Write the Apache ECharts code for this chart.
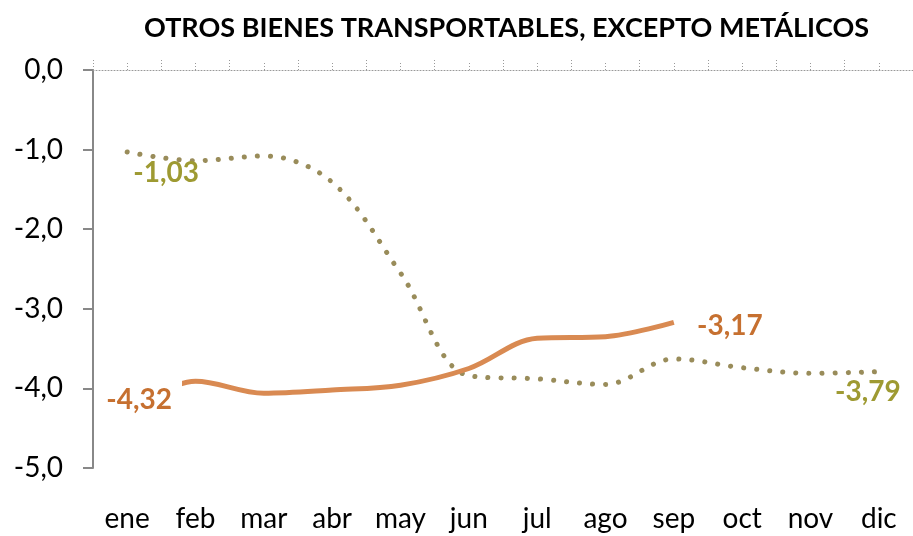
<!DOCTYPE html>
<html>
<head>
<meta charset="utf-8">
<script src="https://cdn.jsdelivr.net/npm/echarts@6/dist/echarts.min.js"></script>
<style>
  html, body { margin: 0; padding: 0; background: #fff; }
  #chart { width: 913px; height: 536px; }
</style>
</head>
<body>
<div id="chart"></div>
<script>
const months = ["ene", "feb", "mar", "abr", "may", "jun", "jul", "ago", "sep", "oct", "nov", "dic"];
const prevYear = [-1.03, -1.14, -1.08, -1.41, -2.55, -3.84, -3.88, -3.95, -3.63, -3.74, -3.81, -3.79];
const currYear = [-4.32, -3.91, -4.06, -4.02, -3.96, -3.75, -3.37, -3.35, -3.17];
const yTicks = { min: -5, max: 0, step: 1 };

const fmt = (v) => v.toFixed(2).replace(".", ",");
const FONT = "Lato";

// label only on first and last point of each series
function endLabels(data, color, firstOffset, lastOffset, firstBg) {
    return data.map((v, i) => {
        const isFirst = i === 0;
        const isLast = i === data.length - 1;
        if (!isFirst && !isLast) return v;
        const off = isFirst ? firstOffset : lastOffset;
        const bg = isFirst && firstBg;
        return {
            value: v,
            label: {
                show: true,
                position: [1 + off[0], 1 + off[1]],
                align: "center", verticalAlign: "middle",
                color: color, fontFamily: FONT, fontWeight: "bold", fontSize: 28,
                backgroundColor: bg ? "#fff" : "transparent",
                padding: bg ? [6, 10, 6, 8] : 0,
                formatter: () => fmt(v)
            }
        };
    });
}

const chart = echarts.init(document.getElementById("chart"));

const option = {
    animation: false,
    backgroundColor: "#fff",
    title: {
        text: "OTROS BIENES TRANSPORTABLES, EXCEPTO METÁLICOS",
        left: 139,
        top: 10,
        textStyle: { fontFamily: FONT, fontWeight: "bold", fontSize: 27, color: "#000" }
    },
    grid: { left: 93, right: -6, top: 70, bottom: 68 },
    xAxis: [
        {
            type: "category", data: months, position: "top", boundaryGap: true,
            axisLine: { show: true, onZero: false, lineStyle: { color: "#999", width: 1, type: [1, 2] } },
            axisTick: { show: true, length: 10, lineStyle: { color: "#999", type: [1, 2] } },
            axisLabel: { show: false }
        },
        {
            type: "category", data: months, position: "top", boundaryGap: true,
            axisLine: { show: false },
            axisTick: { show: true, alignWithLabel: true, length: 7, lineStyle: { color: "#999", type: [1, 2] } },
            axisLabel: { show: false }
        },
        {
            type: "category", data: months, position: "bottom", boundaryGap: true,
            axisLine: { show: false }, axisTick: { show: false },
            axisLabel: { margin: 37, fontFamily: FONT, fontSize: 28, color: "#000" }
        }
    ],
    yAxis: {
        type: "value", min: yTicks.min, max: yTicks.max, interval: yTicks.step,
        axisLine: { show: true, lineStyle: { color: "#888", width: 2 } },
        axisTick: { show: true, length: 10, lineStyle: { color: "#888", width: 2 } },
        splitLine: { show: false },
        axisLabel: {
            margin: 30, fontFamily: FONT, fontSize: 28, color: "#000",
            formatter: (v) => v.toFixed(1).replace(".", ",")
        }
    },
    series: [
        {
            type: "line",
            data: endLabels(prevYear, "#9E9A32", [39, 21], [-11, 20], false),
            smooth: 0.35,
            showSymbol: true,
            symbol: "circle",
            symbolSize: 2,
            itemStyle: { color: "rgba(0,0,0,0)", borderWidth: 0 },
            lineStyle: { color: "#998C5A", width: 5, type: [0.1, 13], cap: "round" },
            z: 2
        },
        {
            type: "line",
            data: endLabels(currYear, "#C67030", [13, -14], [56, 4], true),
            smooth: 0.35,
            showSymbol: true,
            symbol: "circle",
            symbolSize: 2,
            itemStyle: { color: "rgba(0,0,0,0)", borderWidth: 0 },
            lineStyle: { color: "#D98A52", width: 5 },
            z: 3
        }
    ]
};

chart.setOption(option);
</script>
</body>
</html>
